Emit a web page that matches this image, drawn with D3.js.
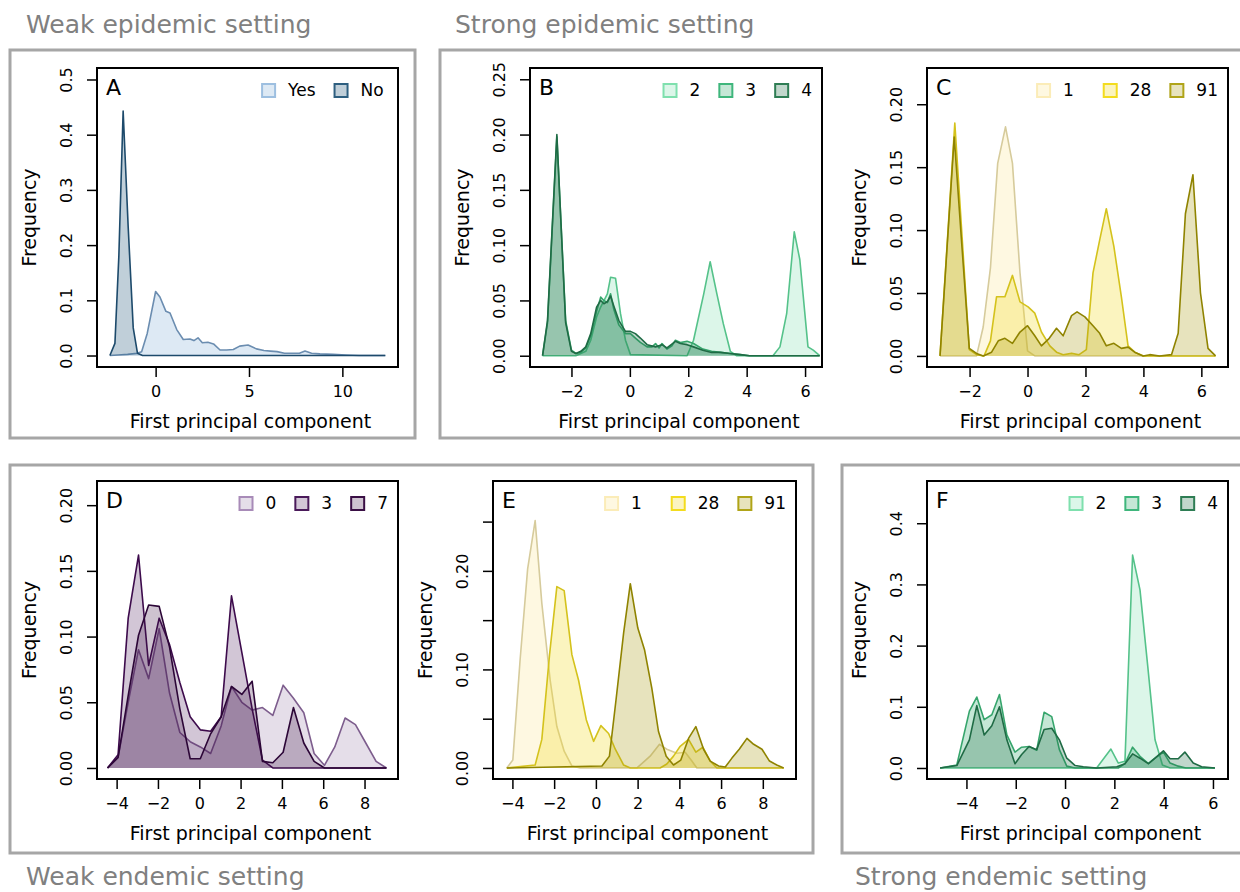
<!DOCTYPE html>
<html>
<head>
<meta charset="utf-8">
<script src="https://cdn.jsdelivr.net/npm/d3@7"></script>
<style>
  body { margin: 0; background: #fff; }
  svg text { font-family: "DejaVu Sans", sans-serif; }
</style>
</head>
<body>
<svg id="chart" width="1240" height="892"></svg>
<script>
// ---- data (x = first principal component, y = frequency) ----

// A: weak epidemic, Yes / No
const aYesX = [-2.45, -2.0, -1.5, -1.0, -0.75, -0.45, 0.0, 0.23, 0.55, 0.77, 1.13, 1.48, 1.84, 2.05, 2.27, 2.5, 2.8, 3.1, 3.45, 3.8, 4.16, 4.5, 4.95, 5.4, 5.8, 6.15, 6.5, 6.9, 7.25, 7.7, 8.0, 8.35, 8.8, 9.5, 10.2, 10.9, 12.3];
const aYesY = [0, 0.001, 0.002, 0.004, 0.007, 0.040, 0.116, 0.106, 0.080, 0.077, 0.047, 0.029, 0.030, 0.027, 0.032, 0.023, 0.024, 0.021, 0.010, 0.010, 0.011, 0.017, 0.019, 0.012, 0.009, 0.008, 0.007, 0.004, 0.004, 0.004, 0.008, 0.004, 0.003, 0.002, 0.001, 0, 0];
const aNoX = [-2.45, -2.18, -1.97, -1.74, -1.47, -1.2, -0.97, -0.7, 12.3];
const aNoY = [0, 0.022, 0.18, 0.443, 0.233, 0.05, 0.004, 0, 0];

// B: strong epidemic, 2 / 3 / 4
const b2X = [-2.99, -1.85, -1.51, -1.34, -1.14, -1.0, -0.77, -0.66, -0.49, -0.32, -0.15, 0.02, 1.96, 2.18, 2.53, 2.75, 2.98, 3.2, 3.44, 3.66, 4.9, 5.14, 5.37, 5.63, 5.82, 6.1, 6.28, 6.5];
const b2Y = [0, 0, 0.004, 0.014, 0.035, 0.044, 0.056, 0.071, 0.070, 0.038, 0.014, 0.001, 0, 0.014, 0.056, 0.085, 0.056, 0.029, 0.004, 0, 0, 0.008, 0.038, 0.112, 0.087, 0.008, 0.005, 0];
const b3X = [-2.99, -2.82, -2.5, -2.2, -2.0, -1.85, -1.68, -1.51, -1.34, -1.14, -1.0, -0.89, -0.77, -0.66, -0.55, -0.38, -0.15, 0.02, 0.19, 0.36, 0.59, 0.76, 0.88, 1.0, 1.1, 1.27, 1.44, 1.56, 1.73, 1.96, 2.18, 2.5, 2.8, 3.1, 3.44, 3.78, 4.1, 6.5];
const b3Y = [0, 0.030, 0.198, 0.032, 0.005, 0.002, 0.003, 0.007, 0.018, 0.040, 0.053, 0.050, 0.048, 0.056, 0.042, 0.028, 0.020, 0.020, 0.016, 0.012, 0.008, 0.008, 0.011, 0.007, 0.011, 0.006, 0.009, 0.014, 0.012, 0.013, 0.011, 0.006, 0.004, 0.003, 0.002, 0.001, 0, 0];
const b4X = [-2.99, -2.82, -2.5, -2.2, -2.0, -1.85, -1.68, -1.51, -1.34, -1.14, -1.0, -0.89, -0.77, -0.66, -0.55, -0.38, -0.15, 0.02, 0.19, 0.36, 0.59, 0.88, 1.1, 1.27, 1.56, 1.73, 1.96, 2.18, 2.5, 2.8, 3.1, 3.44, 3.78, 4.1, 6.5];
const b4Y = [0, 0.032, 0.200, 0.030, 0.004, 0.002, 0.004, 0.008, 0.020, 0.044, 0.050, 0.047, 0.049, 0.054, 0.045, 0.032, 0.022, 0.022, 0.020, 0.016, 0.010, 0.008, 0.010, 0.007, 0.013, 0.011, 0.010, 0.008, 0.005, 0.003, 0.003, 0.002, 0.001, 0, 0];

// C: strong epidemic, 1 / 28 / 91
const c1X = [-3.02, -1.76, -1.53, -1.28, -1.03, -0.76, -0.52, -0.26, 0, 0.25, 6.49];
const c1Y = [0, 0, 0.023, 0.070, 0.153, 0.182, 0.153, 0.066, 0.004, 0, 0];
const c28X = [-3.02, -2.51, -2.01, -1.76, -1.5, -1.28, -1.07, -0.78, -0.52, -0.26, 0.02, 0.25, 0.48, 0.77, 1.0, 1.23, 1.52, 1.78, 2.03, 2.26, 2.49, 2.72, 2.98, 3.24, 3.47, 3.7, 4.0, 6.49];
const c28Y = [0, 0.185, 0.005, 0.001, 0, 0.012, 0.047, 0.047, 0.064, 0.043, 0.039, 0.034, 0.019, 0.008, 0.003, 0.001, 0.002, 0.001, 0.005, 0.066, 0.092, 0.117, 0.087, 0.047, 0.008, 0.003, 0, 0];
const c91X = [-3.02, -2.53, -2.28, -2.01, -1.76, -1.53, -1.24, -1.01, -0.78, -0.52, -0.26, 0, 0.25, 0.48, 0.75, 1.0, 1.23, 1.52, 1.71, 1.98, 2.26, 2.49, 2.72, 2.98, 3.24, 3.47, 3.7, 3.99, 4.22, 4.56, 4.97, 5.2, 5.45, 5.71, 5.97, 6.23, 6.49];
const c91Y = [0, 0.174, 0.092, 0.006, 0.002, 0, 0.003, 0.012, 0.014, 0.010, 0.019, 0.024, 0.016, 0.008, 0.014, 0.022, 0.016, 0.032, 0.035, 0.031, 0.024, 0.018, 0.008, 0.010, 0.006, 0.007, 0.003, 0, 0.001, 0, 0.001, 0.018, 0.113, 0.144, 0.050, 0.006, 0];

// D: weak endemic, 0 / 3 / 7
const dX = [-4.44, -3.93, -3.44, -2.94, -2.45, -1.94, -1.44, -0.94, -0.44, 0.05, 0.55, 1.06, 1.56, 2.06, 2.56, 3.06, 3.56, 4.06, 4.56, 5.06, 5.56, 6.06, 6.56, 7.06, 7.56, 8.06, 8.56, 9.06];
const d0Y = [0, 0.008, 0.050, 0.090, 0.068, 0.106, 0.057, 0.027, 0.020, 0.016, 0.011, 0.032, 0.062, 0.050, 0.044, 0.046, 0.040, 0.063, 0.053, 0.042, 0.011, 0.002, 0.016, 0.038, 0.033, 0.019, 0.005, 0];
const d3Y = [0, 0.010, 0.114, 0.162, 0.078, 0.114, 0.094, 0.065, 0.039, 0.029, 0.028, 0.039, 0.131, 0.088, 0.045, 0.006, 0, 0, 0, 0, 0, 0, 0, 0, 0, 0, 0, 0];
const d7Y = [0, 0.008, 0.055, 0.101, 0.124, 0.123, 0.092, 0.045, 0.007, 0.007, 0.026, 0.039, 0.062, 0.056, 0.066, 0.005, 0.004, 0.012, 0.046, 0.019, 0.005, 0, 0, 0, 0, 0, 0, 0];

// E: weak endemic, 1 / 28 / 91
const e1X = [-4.27, -3.98, -3.63, -3.27, -2.91, -2.59, -2.19, -1.87, -1.52, -1.15, -0.75, 1.97, 2.6, 3.05, 3.4, 3.88, 4.28, 4.6, 4.84, 9.0];
const e1Y = [0, 0.008, 0.110, 0.202, 0.251, 0.167, 0.089, 0.042, 0.017, 0.002, 0, 0, 0.012, 0.024, 0.019, 0.015, 0.016, 0.007, 0, 0];
const e28X = [-4.27, -2.91, -2.59, -2.22, -1.87, -1.52, -1.15, -0.83, -0.46, -0.11, 0.24, 0.61, 0.93, 1.33, 1.65, 3.08, 3.4, 3.72, 4.04, 4.44, 4.79, 5.13, 5.48, 5.8, 9.0];
const e28Y = [0, 0.003, 0.029, 0.115, 0.184, 0.180, 0.115, 0.089, 0.049, 0.027, 0.043, 0.035, 0.019, 0.003, 0, 0, 0.004, 0.012, 0.022, 0.029, 0.016, 0.021, 0.007, 0, 0];
const e91X = [-4.27, 0.29, 0.65, 0.97, 1.33, 1.65, 2.01, 2.33, 2.68, 3.0, 3.37, 3.72, 4.07, 4.44, 4.79, 5.16, 5.48, 5.88, 6.2, 6.52, 6.87, 7.24, 7.56, 7.96, 8.32, 8.67, 9.0];
const e91Y = [0, 0.002, 0.012, 0.070, 0.137, 0.187, 0.142, 0.120, 0.081, 0.037, 0.012, 0.003, 0.008, 0.030, 0.042, 0.019, 0.007, 0.002, 0.001, 0.010, 0.019, 0.030, 0.024, 0.019, 0.007, 0.003, 0];

// F: strong endemic, 2 / 3 / 4
const f2X = [-5.07, 1.28, 1.86, 2.16, 2.43, 2.74, 3.04, 3.35, 3.65, 3.95, 4.26, 6.08];
const f2Y = [0, 0, 0.031, 0.008, 0.011, 0.348, 0.291, 0.168, 0.046, 0.005, 0, 0];
const f3X = [-5.07, -4.39, -3.88, -3.58, -3.28, -2.97, -2.66, -2.36, -2.03, -1.76, -1.46, -1.15, -0.85, -0.54, -0.23, 0.07, 0.41, 2.16, 2.43, 2.74, 3.04, 3.38, 3.65, 3.99, 4.26, 4.59, 4.9, 6.08];
const f3Y = [0, 0.005, 0.093, 0.116, 0.079, 0.087, 0.120, 0.054, 0.026, 0.034, 0.035, 0.029, 0.091, 0.084, 0.030, 0.003, 0, 0, 0.007, 0.034, 0.019, 0.007, 0.016, 0.026, 0.008, 0.003, 0, 0];
const f4X = [-5.07, -4.39, -3.88, -3.58, -3.28, -2.97, -2.66, -2.36, -2.03, -1.76, -1.46, -1.15, -0.85, -0.54, -0.23, 0.07, 0.41, 0.74, 1.28, 2.1, 2.43, 2.74, 3.04, 3.38, 3.65, 3.99, 4.26, 4.59, 4.86, 5.2, 5.54, 6.08];
const f4Y = [0, 0.004, 0.046, 0.102, 0.054, 0.069, 0.100, 0.046, 0.007, 0.022, 0.035, 0.030, 0.063, 0.065, 0.046, 0.016, 0.004, 0.002, 0, 0.002, 0.007, 0.023, 0.016, 0.007, 0.016, 0.028, 0.015, 0.015, 0.026, 0.008, 0.002, 0];

// tick values
const ticksA = [0, 0.1, 0.2, 0.3, 0.4, 0.5];
const ticksB = [0, 0.05, 0.1, 0.15, 0.2, 0.25];
const ticksC = [0, 0.05, 0.1, 0.15, 0.2];
const ticksF = [0, 0.1, 0.2, 0.3, 0.4];
const labelsE = [0, 0.1, 0.2];

// colours per legend
const blues   = { Yes: ["#9dbfe0", 0.35, "#6b8db0", "#9dbfe0"], No: ["#2e5f80", 0.3, "#1d4a6b", "#2e5f80"] };
const greens  = { "2": ["#5fd79a", 0.22, "#55c28a", "#7fe0ae"], "3": ["#2fa86a", 0.28, "#36a56c", "#3fb67c"], "4": ["#1f6e48", 0.28, "#1f6b45", "#2e7d54"] };
const yellows = { "1": ["#fbe99a", 0.3, "#d6cb9c", "#fbecb8"], "28": ["#f2dc2a", 0.3, "#d4c21c", "#f3dc1e"], "91": ["#a89b12", 0.28, "#8f8300", "#b0a418"] };
const purples = { "0": ["#8a6a9a", 0.22, "#7d5d8d", "#a88bb8"], "3": ["#4a1a5a", 0.25, "#3d0b4c", "#4a1a5a"], "7": ["#3a0f45", 0.25, "#2c0637", "#3a0f45"] };

const svg = d3.select("#chart");

// grey group frames and their titles
const frames = [[10, 50, 415, 438], [440, 50, 1260, 438], [10, 465, 813, 853], [842, 465, 1260, 853]];
svg.selectAll("rect.frame").data(frames).enter().append("rect")
    .attr("class", "frame")
    .attr("x", d => d[0]).attr("y", d => d[1])
    .attr("width", d => d[2] - d[0]).attr("height", d => d[3] - d[1])
    .attr("fill", "none").attr("stroke", "#a6a6a6").attr("stroke-width", 3);

const titles = [["Weak epidemic setting", 26, 33], ["Strong epidemic setting", 455, 33],
                ["Weak endemic setting", 26, 885], ["Strong endemic setting", 855, 885]];
svg.selectAll("text.group").data(titles).enter().append("text")
    .attr("class", "group")
    .attr("x", d => d[1]).attr("y", d => d[2])
    .attr("font-size", "25px").attr("fill", "#808080")
    .text(d => d[0]);

function series(name, xs, ys, pal) {
    const c = pal[name];
    return { name, pts: xs.map((v, i) => [v, ys[i]]), fill: c[0], op: c[1], line: c[2], edge: c[3] };
}

function drawPanel(p) {
    const [l, t, r, b] = p.box;
    const x = d3.scaleLinear().domain(p.xDomain).range([l, r]);
    const y = d3.scaleLinear().domain(p.yDomain).range([b, t]);
    const g = svg.append("g");

    const area = d3.area().x(d => x(d[0])).y0(y(0)).y1(d => y(d[1]));
    const line = d3.line().x(d => x(d[0])).y(d => y(d[1]));

    p.series.forEach(s => {
        g.append("path").attr("d", area(s.pts))
            .attr("fill", s.fill).attr("fill-opacity", s.op);
        g.append("path").attr("d", line(s.pts))
            .attr("fill", "none").attr("stroke", s.line)
            .attr("stroke-width", 1.6).attr("stroke-linejoin", "round");
    });

    // x axis
    const xa = g.append("g").attr("transform", `translate(0,${b})`)
        .call(d3.axisBottom(x).tickValues(p.xTicks).tickSize(10).tickPadding(9).tickFormat(d3.format("d")));
    xa.select(".domain").remove();
    xa.selectAll("line").attr("stroke-width", 1.5);
    xa.selectAll("text").attr("font-size", "16px").attr("fill", "#000")
        .style("font-family", "DejaVu Sans");

    // y axis, labels parallel to axis
    const fmt = d3.format(p.yFmt);
    const ya = g.append("g").attr("transform", `translate(${l},0)`)
        .call(d3.axisLeft(y).tickValues(p.yTicks).tickSize(10)
            .tickFormat(d => (p.yLabels ? p.yLabels.some(v => Math.abs(v - d) < 1e-9) : true) ? fmt(d) : ""));
    ya.select(".domain").remove();
    ya.selectAll("line").attr("stroke-width", 1.5);
    ya.selectAll("text").attr("x", null).attr("dy", null)
        .attr("text-anchor", "middle").attr("transform", "translate(-25,0) rotate(-90)")
        .attr("font-size", "16px").attr("fill", "#000")
        .style("font-family", "DejaVu Sans");

    // box
    g.append("rect").attr("x", l).attr("y", t).attr("width", r - l).attr("height", b - t)
        .attr("fill", "none").attr("stroke", "#000").attr("stroke-width", 2);

    // axis titles
    g.append("text").attr("x", (l + r) / 2 + 3).attr("y", b + 61)
        .attr("text-anchor", "middle").attr("font-size", "19px")
        .text("First principal component");
    g.append("text")
        .attr("transform", `translate(${l - 61},${(t + b) / 2}) rotate(-90)`)
        .attr("text-anchor", "middle").attr("font-size", "19px")
        .text("Frequency");

    // panel letter
    g.append("text").attr("x", l + 9).attr("y", t + 27)
        .attr("font-size", "22px").text(p.letter);

    // legend (horizontal, top right)
    const probe = g.append("text").attr("font-size", "17px")
        .text(p.series.reduce((a, s) => s.name.length > a.length ? s.name : a, ""));
    const maxW = probe.node().getComputedTextLength();
    probe.remove();
    const itemW = 27 + maxW + 18;
    const x0 = r - (p.series.length * itemW - 9);
    const leg = g.append("g").selectAll("g").data(p.series).enter().append("g")
        .attr("transform", (d, i) => `translate(${x0 + i * itemW},${t})`);
    leg.append("rect").attr("x", 0).attr("y", 16).attr("width", 13).attr("height", 13)
        .attr("fill", "#fff");
    leg.append("rect").attr("x", 0).attr("y", 16).attr("width", 13).attr("height", 13)
        .attr("fill", d => d.fill).attr("fill-opacity", d => d.op)
        .attr("stroke", d => d.edge).attr("stroke-width", 2);
    leg.append("text").attr("x", 26).attr("y", 28).attr("font-size", "17px")
        .text(d => d.name);
}

const panels = [
    { letter: "A", box: [97, 68, 398, 367], xDomain: [-3.14, 12.98], yDomain: [-0.0208, 0.5208],
      xTicks: [0, 5, 10], yTicks: ticksA, yFmt: ".1f",
      series: [series("Yes", aYesX, aYesY, blues), series("No", aNoX, aNoY, blues)] },
    { letter: "B", box: [530, 68, 822, 367], xDomain: [-3.42, 6.58], yDomain: [-0.0102, 0.2602],
      xTicks: [-2, 0, 2, 4, 6], yTicks: ticksB, yFmt: ".2f",
      series: [series("2", b2X, b2Y, greens), series("3", b3X, b3Y, greens), series("4", b4X, b4Y, greens)] },
    { letter: "C", box: [927, 68, 1228, 367], xDomain: [-3.47, 6.92], yDomain: [-0.0088, 0.2288],
      xTicks: [-2, 0, 2, 4, 6], yTicks: ticksC, yFmt: ".2f",
      series: [series("1", c1X, c1Y, yellows), series("28", c28X, c28Y, yellows), series("91", c91X, c91Y, yellows)] },
    { letter: "D", box: [97, 481, 398, 779], xDomain: [-4.95, 9.62], yDomain: [-0.0084, 0.2184],
      xTicks: [-4, -2, 0, 2, 4, 6, 8], yTicks: ticksC, yFmt: ".2f",
      series: [series("0", dX, d0Y, purples), series("3", dX, d3Y, purples), series("7", dX, d7Y, purples)] },
    { letter: "E", box: [493, 481, 796, 779], xDomain: [-4.93, 9.59], yDomain: [-0.0112, 0.2912],
      xTicks: [-4, -2, 0, 2, 4, 6, 8], yTicks: ticksB, yLabels: labelsE, yFmt: ".2f",
      series: [series("1", e1X, e1Y, yellows), series("28", e28X, e28Y, yellows), series("91", e91X, e91Y, yellows)] },
    { letter: "F", box: [927, 481, 1228, 779], xDomain: [-5.6, 6.61], yDomain: [-0.018, 0.469],
      xTicks: [-4, -2, 0, 2, 4, 6], yTicks: ticksF, yFmt: ".1f",
      series: [series("2", f2X, f2Y, greens), series("3", f3X, f3Y, greens), series("4", f4X, f4Y, greens)] }
];

panels.forEach(drawPanel);
</script>
</body>
</html>
